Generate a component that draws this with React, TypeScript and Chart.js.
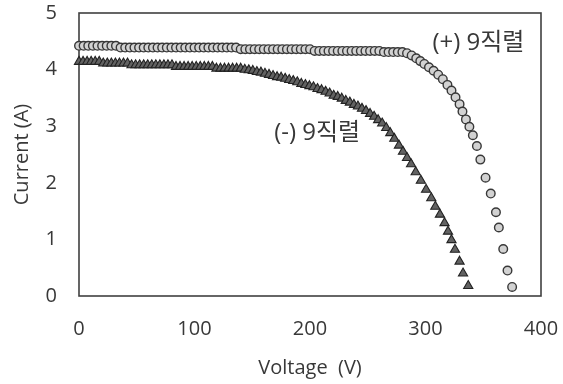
import React, { useEffect, useRef } from "react";
import { Chart, registerables } from "chart.js";

Chart.register(...registerables);

// (+) 9직렬 series — circles
const plusVoltage = [
  0, 4, 8, 12, 16, 20, 24, 28, 32,
  36, 40, 44, 48, 52, 56, 60, 64, 68, 72, 76, 80, 84, 88, 92, 96, 100, 104, 108, 112, 116, 120, 124, 128, 132, 136,
  140, 144, 148, 152, 156, 160, 164, 168, 172, 176, 180, 184, 188, 192, 196, 200,
  204, 208, 212, 216, 220, 224, 228, 232, 236, 240, 244, 248, 252, 256, 260,
  264, 268, 272, 276, 280,
  284, 288, 292, 295.5, 299, 303, 307, 311, 315, 319, 322.5, 326, 329.5, 332, 335, 338, 341, 344.5, 347.5,
  352, 356.5, 361, 363.5, 367.3, 371, 375,
];
const plusCurrent = [
  4.42, 4.42, 4.42, 4.42, 4.42, 4.42, 4.42, 4.42, 4.42,
  4.39, 4.39, 4.39, 4.39, 4.39, 4.39, 4.39, 4.39, 4.39, 4.39, 4.39, 4.39, 4.39, 4.39, 4.39, 4.39, 4.39, 4.39, 4.39, 4.39, 4.39, 4.39, 4.39, 4.39, 4.39, 4.39,
  4.36, 4.36, 4.36, 4.36, 4.36, 4.36, 4.36, 4.36, 4.36, 4.36, 4.36, 4.36, 4.36, 4.36, 4.36, 4.36,
  4.33, 4.33, 4.33, 4.33, 4.33, 4.33, 4.33, 4.33, 4.33, 4.33, 4.33, 4.33, 4.33, 4.33, 4.33,
  4.31, 4.31, 4.31, 4.31, 4.31,
  4.29, 4.25, 4.2, 4.15, 4.1, 4.04, 3.98, 3.91, 3.83, 3.73, 3.63, 3.51, 3.39, 3.26, 3.12, 2.99, 2.84, 2.65, 2.41,
  2.09, 1.81, 1.48, 1.21, 0.83, 0.45, 0.16,
];

// (-) 9직렬 series — triangles
const minusVoltage = [
  0, 3.5, 7, 10.5, 14, 17.5,
  21, 24.5, 28, 31.5, 35, 38.5, 42,
  45.5, 49, 52.5, 56, 59.5, 63, 66.5, 70, 73.5, 77, 80.5,
  84, 87.5, 91, 94.5, 98, 101.5, 105, 108.5, 112, 115.5,
  119, 122.5, 126, 129.5, 133, 136.5, 140,
  143.5, 147, 150.5, 154, 157.5, 161, 164.5, 168, 171.5, 175, 178.5, 182, 185.5, 189, 192.5, 196, 199.5,
  203, 206.5, 210, 213.5, 217, 220.5, 224, 227.5, 231, 234.5, 238, 241.5, 245, 248.5, 252, 255.5, 259, 262.5,
  266, 269.5, 273, 277, 280.5, 284, 287.5, 291.5, 296, 300.5, 305, 308.5, 312.5, 316.5, 319.5, 322.5, 325.5,
  329.5, 332.5, 337,
];
const minusCurrent = [
  4.14, 4.14, 4.14, 4.14, 4.14, 4.14,
  4.11, 4.11, 4.11, 4.11, 4.11, 4.11, 4.11,
  4.08, 4.08, 4.08, 4.08, 4.08, 4.08, 4.08, 4.08, 4.08, 4.08, 4.08,
  4.05, 4.05, 4.05, 4.05, 4.05, 4.05, 4.05, 4.05, 4.05, 4.05,
  4.02, 4.02, 4.02, 4.02, 4.02, 4.02, 4.02,
  4.0, 3.99, 3.98, 3.96, 3.95, 3.93, 3.91, 3.89, 3.87, 3.86, 3.84, 3.82, 3.8, 3.78, 3.75, 3.73, 3.71,
  3.69, 3.66, 3.64, 3.61, 3.58, 3.54, 3.52, 3.49, 3.45, 3.42, 3.38, 3.35, 3.31, 3.27, 3.22, 3.17, 3.11, 3.05,
  2.97, 2.88, 2.78, 2.66, 2.55, 2.44, 2.33, 2.19, 2.04, 1.88, 1.73, 1.58, 1.44, 1.29, 1.14, 0.99, 0.82,
  0.61, 0.4, 0.18,
];

const xTicks = [0, 100, 200, 300, 400];
const yTicks = [0, 1, 2, 3, 4, 5];

const seriesLabels = ["(+) 9직렬", "(-) 9직렬"];
// label anchor points in data units [voltage, current]
const labelAnchors = [
  [306, 4.47],
  [169, 2.88],
];

const TEXT = "#383838";
const FONT = "'Open Sans', 'Noto Sans CJK KR', sans-serif";

export default function App() {
  const ref = useRef<HTMLCanvasElement | null>(null);

  useEffect(() => {
    if (!ref.current) return;
    const boxPlugin = {
      id: "box",
      beforeDatasetsDraw(chart: any) {
        const { ctx, chartArea } = chart;
        ctx.save();
        ctx.strokeStyle = "#404040";
        ctx.lineWidth = 1.6;
        ctx.strokeRect(chartArea.left, chartArea.top, chartArea.right - chartArea.left, chartArea.bottom - chartArea.top);
        ctx.restore();
      },
    };
    const labelPlugin = {
      id: "seriesText",
      afterDraw(chart: any) {
        const { ctx, scales } = chart;
        ctx.save();
        ctx.fillStyle = TEXT;
        ctx.font = "24px " + FONT;
        ctx.textAlign = "left";
        ctx.textBaseline = "middle";
        seriesLabels.forEach((t, i) => {
          const x = scales.x.getPixelForValue(labelAnchors[i][0]);
          const y = scales.y.getPixelForValue(labelAnchors[i][1]);
          ctx.fillText(t, x, y);
        });
        ctx.restore();
      },
    };

    const chart = new Chart(ref.current, {
      type: "scatter",
      data: {
        datasets: [
          {
            label: seriesLabels[0],
            data: plusVoltage.map((v, i) => ({ x: v, y: plusCurrent[i] })),
            pointStyle: "circle",
            pointRadius: 4.3,
            pointBackgroundColor: "#d2d2d2",
            pointBorderColor: "#383838",
            pointBorderWidth: 1.4,
          },
          {
            label: seriesLabels[1],
            data: minusVoltage.map((v, i) => ({ x: v, y: minusCurrent[i] })),
            pointStyle: "triangle",
            pointRadius: 5.3,
            pointBackgroundColor: "#626262",
            pointBorderColor: "#222222",
            pointBorderWidth: 1.1,
          },
        ],
      },
      plugins: [boxPlugin, labelPlugin],
      options: {
        animation: false,
        responsive: true,
        maintainAspectRatio: false,
        clip: false as any,
        layout: { padding: { top: 13, right: 22, left: 0, bottom: 0 } },
        plugins: { legend: { display: false }, tooltip: { enabled: false } },
        scales: {
          x: {
            type: "linear",
            min: 0,
            max: 400,
            afterFit: (s: any) => {
              s.height = 88;
              s.paddingLeft = 0;
              s.paddingRight = 0;
            },
            afterBuildTicks: (s: any) => { s.ticks = xTicks.map((v) => ({ value: v })); },
            grid: { display: false, drawTicks: false },
            border: { display: false },
            ticks: { padding: 21, color: TEXT, font: { family: FONT, size: 20 } },
            title: {
              display: true,
              text: "Voltage  (V)",
              color: TEXT,
              font: { family: FONT, size: 20 },
              padding: { top: 4, bottom: 4 },
            },
          },
          y: {
            type: "linear",
            min: 0,
            max: 5,
            afterFit: (s: any) => {
              s.width = 79;
              s.paddingTop = 0;
              s.paddingBottom = 0;
            },
            afterBuildTicks: (s: any) => { s.ticks = yTicks.map((v) => ({ value: v })); },
            grid: { display: false, drawTicks: false },
            border: { display: false },
            ticks: { padding: 22, color: TEXT, font: { family: FONT, size: 20 } },
            title: {
              display: true,
              text: "Current (A)",
              color: TEXT,
              font: { family: FONT, size: 20 },
              padding: { top: 10, bottom: 10 },
            },
          },
        },
      },
    });
    return () => chart.destroy();
  }, []);

  return (
    <div style={{ position: "fixed", left: 0, top: 0, width: 563, height: 384, background: "#fff" }}>
      <canvas ref={ref} />
    </div>
  );
}
